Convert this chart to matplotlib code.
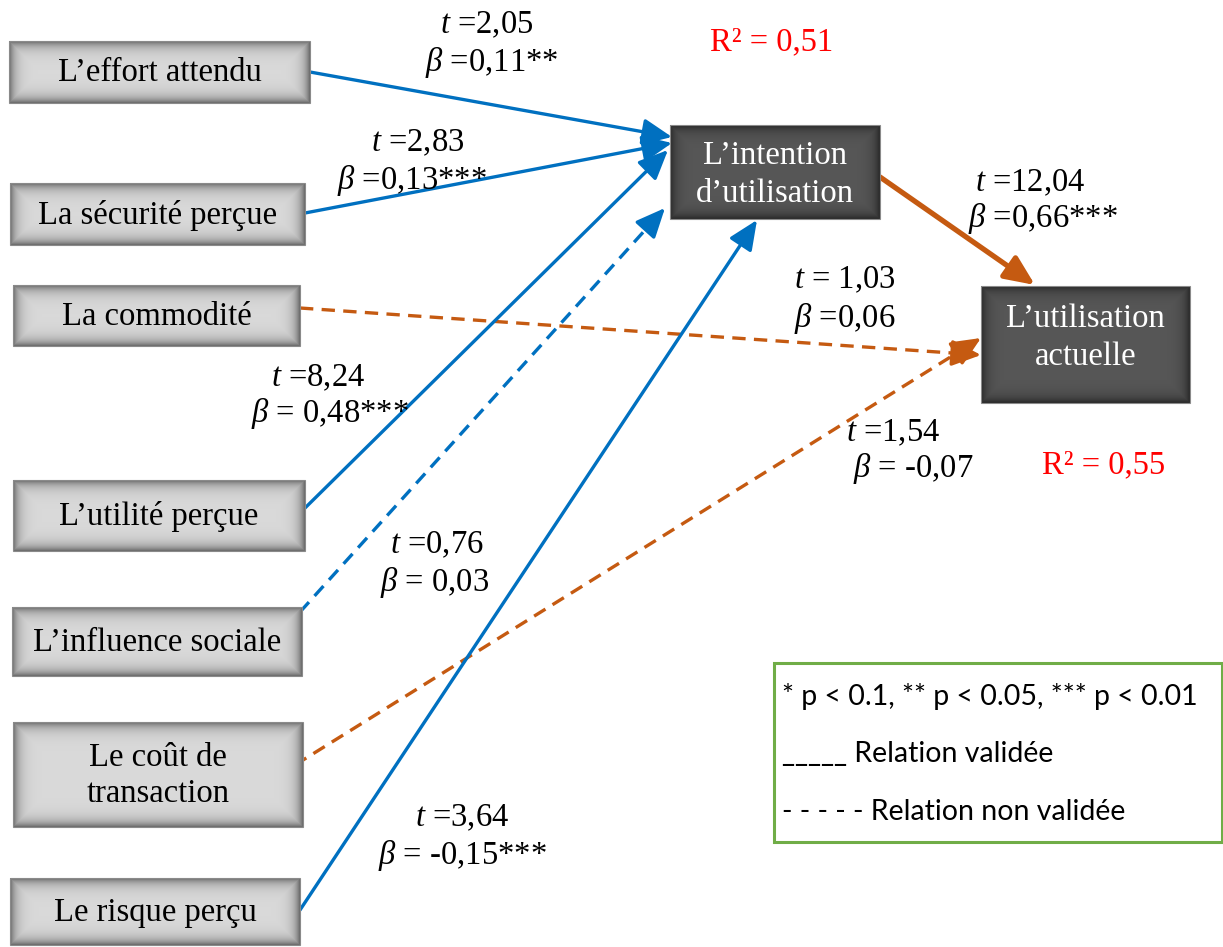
import numpy as np
import matplotlib
matplotlib.use("Agg")
import matplotlib.pyplot as plt
from matplotlib.patches import Rectangle

SERIF = "Liberation Serif"
plt.rcParams["mathtext.fontset"] = "custom"
plt.rcParams["mathtext.rm"] = SERIF
plt.rcParams["mathtext.it"] = SERIF + ":italic"

# ---- data ----
predictors = ["L\u2019effort attendu", "La s\u00e9curit\u00e9 per\u00e7ue", "La commodit\u00e9",
              "L\u2019utilit\u00e9 per\u00e7ue", "L\u2019influence sociale",
              "Le co\u00fbt de\ntransaction", "Le risque per\u00e7u"]
targets = ["L\u2019intention\nd\u2019utilisation", "L\u2019utilisation\nactuelle"]
t_values = ["2,05", "2,83", " 1,03", "8,24", "0,76", "1,54", "3,64", "12,04"]
betas = ["0,11**", "0,13***", "0,06", " 0,48***", " 0,03", " -0,07", " -0,15***", "0,66***"]
path_target = [0, 0, 1, 0, 0, 1, 0]           # which target each predictor points to
validated = [True, True, False, True, False, False, True]
r2_values = ["0,51", "0,55"]
legend_lines = ["* p < 0.1, ** p < 0.05, *** p < 0.01",
                "_____ Relation valid\u00e9e",
                "- - - - - Relation non valid\u00e9e"]

# ---- layout (pixel coordinates) ----
W, H = 1223, 947
fig = plt.figure(figsize=(W / 100, H / 100), dpi=100)
ax = fig.add_axes([0, 0, 1, 1])
ax.set_xlim(0, W)
ax.set_ylim(H, 0)
ax.axis("off")

FS = 23.5
BLUE = "#0070C0"
ORANGE = "#C55A11"

left_boxes = [(9, 41, 310, 103), (10, 183, 305, 245), (13, 285, 300, 346),
              (13, 480, 305, 551), (12, 607, 302, 676), (13, 722, 303, 827),
              (10, 878, 300, 945)]
right_boxes = [(670, 125, 880, 219), (981, 286, 1190, 403)]
right_text_dy = [3, -7]


def shaded_box(x0, y0, x1, y1, base, edge, width, z=3, border=None):
    w = int(x1 - x0)
    h = int(y1 - y0)
    xx = np.arange(w)[None, :]
    yy = np.arange(h)[:, None]
    d = np.minimum(np.minimum(xx, w - 1 - xx), np.minimum(yy, h - 1 - yy)).astype(float)
    f = np.exp(-d / width)
    base = np.array(matplotlib.colors.to_rgb(base))
    edge = np.array(matplotlib.colors.to_rgb(edge))
    img = base[None, None, :] * (1 - f[..., None]) + edge[None, None, :] * f[..., None]
    ax.imshow(img, extent=(x0, x1, y1, y0), origin="upper", zorder=z,
              interpolation="bilinear", aspect="auto")
    if border:
        ax.add_patch(Rectangle((x0, y0), x1 - x0, y1 - y0, fill=False,
                               edgecolor=border, lw=0.8, zorder=z + 0.1))


for (x0, y0, x1, y1), name in zip(left_boxes, predictors):
    shaded_box(x0, y0, x1, y1, "#dadada", "#6e6e6e", 6, border="#8a8a8a")
    ax.text((x0 + x1) / 2, (y0 + y1) / 2 + 1, name, ha="center", va="center",
            fontsize=FS, family=SERIF, color="black", zorder=5, linespacing=1.25)

for (x0, y0, x1, y1), name, dy in zip(right_boxes, targets, right_text_dy):
    shaded_box(x0, y0, x1, y1, "#575757", "#2a2a2a", 6, border="#8a8a8a")
    ax.text((x0 + x1) / 2, (y0 + y1) / 2 + dy, name, ha="center", va="center",
            fontsize=FS, family=SERIF, color="white", zorder=5, linespacing=1.32)

# arrows
starts = [(310, 72), (305, 213), (300, 308), (305, 508), (300, 612), (295, 765), (300, 910)]
ends = [(672, 137), (672, 143), (981, 355), (668, 150), (665, 208), (981, 338), (757, 220)]


def arrow(p0, p1, color, lw, dashed=False, head=22):
    p0 = np.array(p0, float)
    p1 = np.array(p1, float)
    style = "-|>,head_length=0.9,head_width=0.4"
    if dashed:
        v = p1 - p0
        L = np.hypot(*v)
        pm = p1 - v / L * (head * 0.9)
        ax.plot([p0[0], pm[0]], [p0[1], pm[1]], color=color, lw=lw,
                ls=(0, (4, 2.5)), zorder=2, solid_capstyle="butt")
        pb = p1 - v / L * (head * 1.0)
        ax.annotate("", xy=p1, xytext=pb,
                    arrowprops=dict(arrowstyle=style, color=color, lw=lw,
                                    shrinkA=0, shrinkB=0, mutation_scale=20), zorder=2)
    else:
        ax.annotate("", xy=p1, xytext=p0,
                    arrowprops=dict(arrowstyle=style, color=color, lw=lw,
                                    shrinkA=0, shrinkB=0, mutation_scale=20), zorder=2)


for i in range(len(predictors)):
    color = BLUE if path_target[i] == 0 else ORANGE
    arrow(starts[i], ends[i], color, 2.4, dashed=not validated[i])

arrow((880, 177), (1035, 285), ORANGE, 3.8, dashed=False)

# coefficient labels
label_pos = [(487, 25, 492, 62), (418, 143, 412, 180), (845, 280, 845, 318),
             (318, 378, 330, 413), (437, 545, 435, 582), (893, 433, 913, 468),
             (462, 818, 462, 855), (1030, 183, 1043, 218)]
for (tx, ty, bx, by), tv, bv in zip(label_pos, t_values, betas):
    ax.text(tx, ty, r"$\it{t}$ =" + tv, ha="center", va="center", fontsize=FS,
            family=SERIF, color="black", zorder=6)
    ax.text(bx, by, r"$\beta$ =" + bv, ha="center", va="center", fontsize=FS,
            family=SERIF, color="black", zorder=6)

r2_pos = [(772, 42), (1104, 465)]
for (x, y), r in zip(r2_pos, r2_values):
    ax.text(x, y, "R\u00b2 = " + r, ha="center", va="center", fontsize=FS,
            family=SERIF, color="#FF0000", zorder=6)

# legend
ax.add_patch(Rectangle((774, 663), 448, 179, facecolor="white",
                       edgecolor="#70AD47", lw=2.2, zorder=4))
for i, line in enumerate(legend_lines):
    ax.text(782, 696 + i * 58, line, ha="left", va="center", fontsize=20.5,
            family="Lato", color="black", zorder=5)

fig.savefig("out.png", dpi=100)
